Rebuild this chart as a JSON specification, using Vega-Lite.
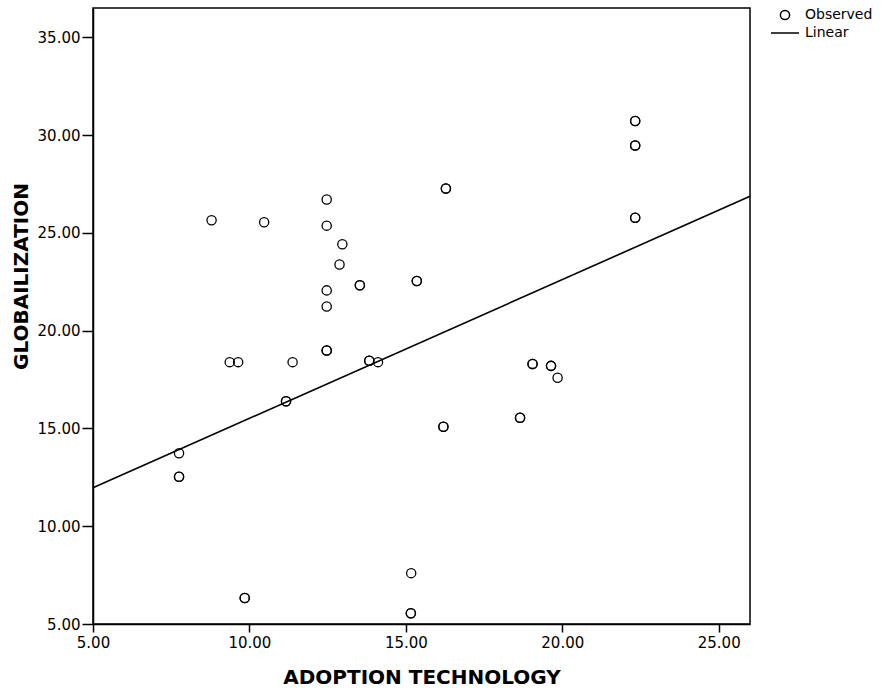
{
  "$schema": "https://vega.github.io/schema/vega-lite/v6.json",
  "width": 657,
  "height": 616,
  "autosize": "none",
  "padding": {"left": 93, "top": 8, "right": 134, "bottom": 64},
  "background": "white",
  "config": {
    "view": {"stroke": "black", "strokeWidth": 1.5},
    "axis": {"grid": false, "labelFlush": false, "labelOverlap": false, "domainColor": "black", "tickColor": "black", "labelColor": "black", "titleColor": "black", "labelFont": "DejaVu Sans", "labelFontSize": 15, "titleFont": "DejaVu Sans", "titleFontWeight": "bold", "titleFontSize": 20, "domainWidth": 1.5, "tickWidth": 1.5}
  },
  "datasets": {
    "observed": [
      {"adoption": 8.79, "globalization": 25.65, "series": "Observed"},
      {"adoption": 10.47, "globalization": 25.54, "series": "Observed"},
      {"adoption": 12.47, "globalization": 26.71, "series": "Observed"},
      {"adoption": 12.47, "globalization": 25.37, "series": "Observed"},
      {"adoption": 12.97, "globalization": 24.42, "series": "Observed"},
      {"adoption": 12.88, "globalization": 23.38, "series": "Observed"},
      {"adoption": 12.47, "globalization": 22.06, "series": "Observed"},
      {"adoption": 12.47, "globalization": 21.24, "series": "Observed"},
      {"adoption": 13.53, "globalization": 22.32, "series": "Observed"},
      {"adoption": 13.53, "globalization": 22.32, "series": "Observed"},
      {"adoption": 15.35, "globalization": 22.54, "series": "Observed"},
      {"adoption": 15.35, "globalization": 22.54, "series": "Observed"},
      {"adoption": 16.28, "globalization": 27.27, "series": "Observed"},
      {"adoption": 16.28, "globalization": 27.27, "series": "Observed"},
      {"adoption": 22.33, "globalization": 30.72, "series": "Observed"},
      {"adoption": 22.33, "globalization": 30.72, "series": "Observed"},
      {"adoption": 22.33, "globalization": 29.47, "series": "Observed"},
      {"adoption": 22.33, "globalization": 29.47, "series": "Observed"},
      {"adoption": 22.33, "globalization": 25.77, "series": "Observed"},
      {"adoption": 22.33, "globalization": 25.77, "series": "Observed"},
      {"adoption": 9.37, "globalization": 18.39, "series": "Observed"},
      {"adoption": 9.64, "globalization": 18.39, "series": "Observed"},
      {"adoption": 11.38, "globalization": 18.39, "series": "Observed"},
      {"adoption": 12.47, "globalization": 18.99, "series": "Observed"},
      {"adoption": 12.47, "globalization": 18.99, "series": "Observed"},
      {"adoption": 13.83, "globalization": 18.46, "series": "Observed"},
      {"adoption": 13.83, "globalization": 18.46, "series": "Observed"},
      {"adoption": 14.11, "globalization": 18.39, "series": "Observed"},
      {"adoption": 11.17, "globalization": 16.39, "series": "Observed"},
      {"adoption": 11.17, "globalization": 16.39, "series": "Observed"},
      {"adoption": 7.75, "globalization": 13.73, "series": "Observed"},
      {"adoption": 7.75, "globalization": 12.53, "series": "Observed"},
      {"adoption": 7.75, "globalization": 12.53, "series": "Observed"},
      {"adoption": 9.85, "globalization": 6.33, "series": "Observed"},
      {"adoption": 9.85, "globalization": 6.33, "series": "Observed"},
      {"adoption": 15.17, "globalization": 7.6, "series": "Observed"},
      {"adoption": 15.16, "globalization": 5.55, "series": "Observed"},
      {"adoption": 15.16, "globalization": 5.55, "series": "Observed"},
      {"adoption": 16.2, "globalization": 15.09, "series": "Observed"},
      {"adoption": 16.2, "globalization": 15.09, "series": "Observed"},
      {"adoption": 18.65, "globalization": 15.55, "series": "Observed"},
      {"adoption": 18.65, "globalization": 15.55, "series": "Observed"},
      {"adoption": 19.05, "globalization": 18.3, "series": "Observed"},
      {"adoption": 19.05, "globalization": 18.3, "series": "Observed"},
      {"adoption": 19.64, "globalization": 18.2, "series": "Observed"},
      {"adoption": 19.64, "globalization": 18.2, "series": "Observed"},
      {"adoption": 19.85, "globalization": 17.59, "series": "Observed"}
    ],
    "fit": [
      {"adoption": 5, "globalization": 11.97, "series": "Linear"},
      {"adoption": 26, "globalization": 26.87, "series": "Linear"}
    ]
  },
  "layer": [
    {
      "data": {"name": "fit"},
      "mark": {"type": "line", "color": "black", "strokeWidth": 1.6},
      "encoding": {
        "x": {"field": "adoption", "type": "quantitative"},
        "y": {"field": "globalization", "type": "quantitative"}
      }
    },
    {
      "data": {"name": "observed"},
      "mark": {"type": "point", "filled": false, "stroke": "black", "strokeWidth": 1.3, "opacity": 1},
      "encoding": {
        "x": {
          "field": "adoption", "type": "quantitative",
          "scale": {"domain": [5, 26], "nice": false, "zero": false},
          "axis": {"title": "ADOPTION TECHNOLOGY", "values": [5, 10, 15, 20, 25], "format": ".2f", "tickSize": 8, "labelPadding": 3, "titleY": 59, "titleBaseline": "alphabetic"}
        },
        "y": {
          "field": "globalization", "type": "quantitative",
          "scale": {"domain": [5, 36.5], "nice": false, "zero": false},
          "axis": {"title": "GLOBAILIZATION", "values": [5, 10, 15, 20, 25, 30, 35], "format": ".2f", "tickSize": 11, "labelPadding": 2, "titleX": -72, "titleY": 268, "titleAngle": -90, "titleAlign": "center", "titleBaseline": "middle"}
        },
        "shape": {
          "field": "series", "type": "nominal",
          "scale": {"domain": ["Observed", "Linear"], "range": ["circle", "stroke"]},
          "legend": {"title": null, "orient": "none", "legendX": 677, "legendY": -1, "clipHeight": 16, "rowPadding": 2, "labelOffset": 5, "labelFont": "DejaVu Sans", "labelFontSize": 14, "labelColor": "black", "symbolStrokeColor": "black", "symbolFillColor": "transparent", "symbolStrokeWidth": 1.5}
        },
        "size": {
          "field": "series", "type": "nominal",
          "scale": {"type": "ordinal", "domain": ["Observed", "Linear"], "range": [85, 784]},
          "legend": {"title": null, "orient": "none", "legendX": 677, "legendY": -1, "clipHeight": 16, "rowPadding": 2, "labelOffset": 5, "labelFont": "DejaVu Sans", "labelFontSize": 14, "labelColor": "black", "symbolStrokeColor": "black", "symbolFillColor": "transparent", "symbolStrokeWidth": 1.5}
        }
      }
    }
  ]
}
